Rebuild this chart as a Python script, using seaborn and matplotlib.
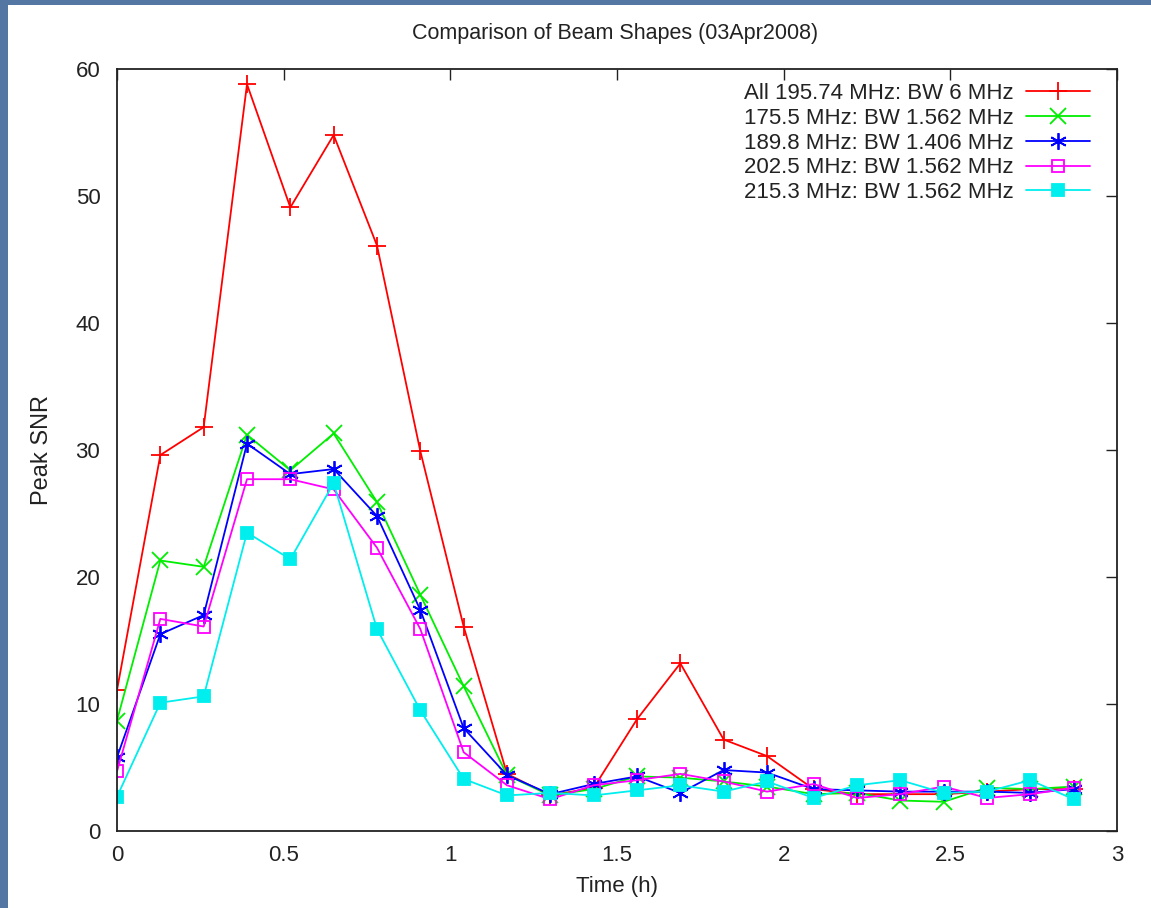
import numpy as np
import pandas as pd
import seaborn as sns
import matplotlib.pyplot as plt
from matplotlib.patches import Rectangle

# Data
time_h = [0.0, 0.13, 0.26, 0.39, 0.52, 0.65, 0.78, 0.91, 1.04, 1.17, 1.30, 1.43,
          1.56, 1.69, 1.82, 1.95, 2.09, 2.22, 2.35, 2.48, 2.61, 2.74, 2.87]
snr_all = [11.1, 29.6, 31.8, 58.8, 49.1, 54.8, 46.1, 29.9, 16.1, 4.5, 2.8, 3.4,
           8.8, 13.2, 7.2, 5.9, 3.3, 2.9, 2.9, 2.9, 3.1, 3.3, 3.3]
snr_175 = [8.7, 21.3, 20.8, 31.2, 28.4, 31.3, 25.9, 18.6, 11.4, 4.4, 2.8, 3.3,
           4.3, 4.2, 3.9, 3.5, 2.9, 3.0, 2.4, 2.3, 3.4, 3.3, 3.5]
snr_189 = [5.8, 15.5, 17.0, 30.5, 28.1, 28.5, 24.8, 17.4, 8.1, 4.4, 2.9, 3.7,
           4.3, 3.0, 4.8, 4.6, 3.3, 3.2, 3.1, 3.1, 3.1, 3.0, 3.3]
snr_202 = [4.7, 16.7, 16.1, 27.7, 27.7, 26.9, 22.3, 15.9, 6.2, 3.6, 2.5, 3.6,
           4.0, 4.5, 3.9, 3.1, 3.7, 2.6, 2.9, 3.5, 2.6, 2.9, 3.4]
snr_215 = [2.7, 10.1, 10.6, 23.5, 21.4, 27.4, 15.9, 9.5, 4.1, 2.8, 3.0, 2.8,
           3.2, 3.6, 3.1, 3.9, 2.6, 3.6, 4.0, 3.0, 3.1, 4.0, 2.5]

labels = ["All 195.74 MHz: BW 6 MHz",
          "175.5 MHz: BW 1.562 MHz",
          "189.8 MHz: BW 1.406 MHz",
          "202.5 MHz: BW 1.562 MHz",
          "215.3 MHz: BW 1.562 MHz"]

series = [snr_all, snr_175, snr_189, snr_202, snr_215]
colors = ["#ff0000", "#00ee00", "#0000ff", "#ff00ff", "#00eeee"]
markers = ["+", "x", (6, 2, 0), "s", "s"]
msizes = [13, 11, 12, 9, 9]
mfaces = [None, None, None, "none", "#00eeee"]

# Set Style
sns.set_style("white")
plt.rcParams['font.family'] = ['Liberation Sans', 'DejaVu Sans']

fig = plt.figure(figsize=(11.51, 9.08), dpi=100)
fig.patch.set_facecolor("#5376a2")
fig.patches.append(Rectangle((8 / 1151, 0), 1, 1 - 5 / 908, transform=fig.transFigure,
                             facecolor="white", edgecolor="none", zorder=-10))
ax = fig.add_axes([117 / 1151, 1 - 831 / 908, 1000 / 1151, 762 / 908])

for vals, lab, c, m, ms, mf in zip(series, labels, colors, markers, msizes, mfaces):
    df = pd.DataFrame({"t": time_h, "snr": vals})
    kw = dict(markersize=ms, markeredgewidth=1.3)
    if mf is not None:
        kw["markerfacecolor"] = mf
    sns.lineplot(data=df, x="t", y="snr", ax=ax, color=c, marker=m, label=lab,
                 linewidth=1.3, markeredgecolor=c, **kw)

# Axes
ax.set_xlim(0, 3)
ax.set_ylim(0, 60)
ax.set_xticks([0, 0.5, 1, 1.5, 2, 2.5, 3])
ax.set_xticklabels(["0", "0.5", "1", "1.5", "2", "2.5", "3"])
ax.set_yticks(range(0, 61, 10))
ax.tick_params(direction="in", length=8, width=1, top=True, right=True,
               labelsize=16, pad=10, colors="#222222")
ax.tick_params(axis="y", pad=12)
for sp in ax.spines.values():
    sp.set_color("#222222")
    sp.set_linewidth(1.3)
ax.set_xlabel("Time (h)", fontsize=16, color="#222222", labelpad=7)
ax.set_ylabel("Peak SNR", fontsize=17, color="#222222", labelpad=16)
fig.text(615 / 1151, 1 - 33 / 908, "Comparison of Beam Shapes (03Apr2008)",
         ha="center", va="center", fontsize=15.5, color="#222222")

leg = ax.legend(loc="upper right", bbox_to_anchor=(1 - 27 / 1000, 1 - 14 / 762),
                frameon=False, markerfirst=False, fontsize=16, handlelength=2.9,
                handletextpad=0.55, labelspacing=0.17, borderpad=0, borderaxespad=0)
for t in leg.get_texts():
    t.set_color("#222222")

fig.savefig("out.png", dpi=100, facecolor=fig.get_facecolor())
